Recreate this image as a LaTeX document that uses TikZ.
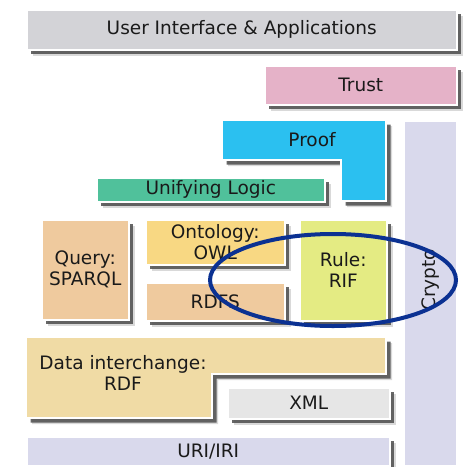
\documentclass[tikz,border=0pt]{standalone}
\usepackage{fontspec}
\setmainfont{DejaVu Sans}
\usetikzlibrary{shadows}
\definecolor{cui}{HTML}{D3D3D7}
\definecolor{ctrust}{HTML}{E5B2C8}
\definecolor{cproof}{HTML}{2BC0F0}
\definecolor{ccrypto}{HTML}{D9D9EC}
\definecolor{clogic}{HTML}{50C19B}
\definecolor{cquery}{HTML}{EFCA9E}
\definecolor{cowl}{HTML}{F8D883}
\definecolor{crif}{HTML}{E4EB83}
\definecolor{crdf}{HTML}{F0DBA5}
\definecolor{cxml}{HTML}{E6E6E6}
\definecolor{cell}{HTML}{0B3192}
\definecolor{ctext}{HTML}{1A1A1A}
\tikzset{
  layer/.style={draw=white, line width=1.5pt,
    drop shadow={shadow xshift=6pt, shadow yshift=-6pt, fill=black!50, opacity=0.3},
    drop shadow={shadow xshift=4.5pt, shadow yshift=-4.5pt, fill=black!70, opacity=0.85}},
  boxnode/.style={layer, anchor=north west, inner sep=0pt, align=center,
    text=ctext, font=\fontsize{18.5}{21}\selectfont},
  lbl/.style={text=ctext, align=center, inner sep=0pt, font=\fontsize{18.5}{21}\selectfont},
}
\begin{document}
\begin{tikzpicture}[x=1pt, y=-1pt]
\useasboundingbox (0,0) rectangle (465,467);
% crypto (no shadow)
\node[draw=white, line width=1.5pt, fill=ccrypto, anchor=north west, minimum width=53pt, minimum height=345pt, inner sep=0pt] (crypto) at (403,120) {};
\node[lbl, rotate=90] (cryptot) at (431,280) {Crypto};
% top
\node[boxnode, fill=cui, minimum width=430pt, minimum height=40pt] (ui) at (26,9) {User Interface \& Applications};
\node[boxnode, fill=ctrust, minimum width=192pt, minimum height=39pt] (trust) at (264,65) {Trust};
% proof L-shape
\path[layer, fill=cproof] (222,120) -- (386,120) -- (386,201) -- (341,201) -- (341,160) -- (222,160) -- cycle;
\node[lbl] (proof) at (312,140) {Proof};
\node[boxnode, fill=clogic, minimum width=228pt, minimum height=24pt] (logic) at (96,177) {Unifying Logic};
% middle
\node[boxnode, fill=cquery, minimum width=87pt, minimum height=100pt] (query) at (41,219) {Query:\\SPARQL};
\node[boxnode, fill=cowl, minimum width=139pt, minimum height=45pt] (owl) at (145,219) {Ontology:\\OWL};
\node[boxnode, fill=cquery, minimum width=139pt, minimum height=38pt] (rdfs) at (145,282) {RDFS};
\node[boxnode, fill=crif, minimum width=87pt, minimum height=101pt] (rif) at (299,219) {Rule:\\RIF};
% data interchange L-shape
\path[layer, fill=crdf] (26,337) -- (386,337) -- (386,374) -- (212,374) -- (212,418) -- (26,418) -- cycle;
\node[lbl] (rdf) at (123,373) {Data interchange:\\RDF};
\node[boxnode, fill=cxml, minimum width=162pt, minimum height=31pt] (xml) at (227,387) {XML};
\node[boxnode, fill=ccrypto, minimum width=363pt, minimum height=29pt] (uri) at (26,436) {URI/IRI};
% ellipse highlight
\draw[cell, line width=4pt] (333,280) ellipse [x radius=123, y radius=46];
\end{tikzpicture}
\end{document}
